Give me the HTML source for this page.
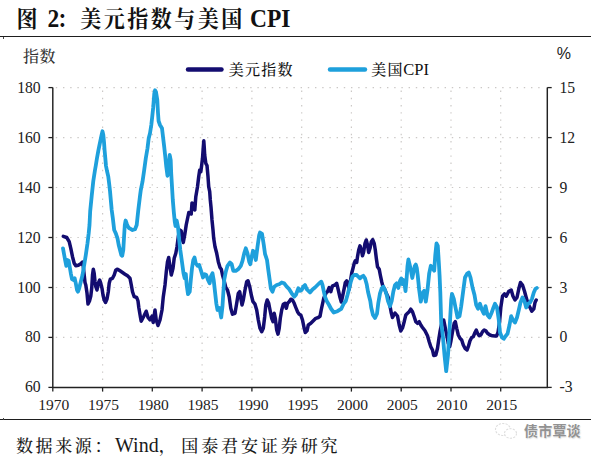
<!DOCTYPE html>
<html lang="zh-CN">
<head>
<meta charset="utf-8">
<title>图 2：美元指数与美国 CPI</title>
<style>
html,body{margin:0;padding:0;background:#fff;}
body{width:600px;height:456px;position:relative;overflow:hidden;font-family:"Liberation Serif","Noto Serif CJK SC",serif;color:#1a1a1a;}
.abs{position:absolute;white-space:nowrap;}
.title{left:16.5px;top:3.8px;font-size:21px;line-height:30px;font-weight:bold;letter-spacing:2.5px;color:#111;transform:scaleY(1.07);transform-origin:0 24px;}
.title span{display:inline-block;}
.title .lat{font-size:23.5px;letter-spacing:0;}
.rule{position:absolute;left:0;width:591px;height:1px;background:#1e1e1e;box-shadow:0 0 0.6px rgba(30,30,30,.55);}
.tickmark{position:absolute;left:2.5px;width:1.2px;height:2px;background:#444;}
.unitl{left:23px;top:47px;font-size:16px;line-height:20px;letter-spacing:0.6px;color:#333;font-weight:500;}
.unitr{left:556.8px;top:43.5px;font-size:16px;line-height:20px;font-family:"Liberation Sans",sans-serif;color:#222;}
.leg{font-size:15px;line-height:20px;letter-spacing:1.25px;color:#111;font-weight:500;}
.leg .lat{font-size:16.5px;letter-spacing:0;font-weight:400;margin-left:-0.5px;}
.yl{position:absolute;left:0;width:40.7px;text-align:right;font-size:15.7px;line-height:18px;color:#222;}
.yr{position:absolute;left:559.5px;width:40px;text-align:left;font-size:15.7px;line-height:18px;color:#222;}
.xl{position:absolute;top:396px;width:40px;text-align:center;font-size:15.5px;line-height:18px;color:#222;}
.src{top:432px;font-size:17px;line-height:26px;letter-spacing:2.6px;color:#1a1a1a;font-weight:500;}
.src .lat{letter-spacing:0;font-size:20px;font-weight:400;}
.wm{left:524px;top:421px;font-size:14px;line-height:20px;font-family:"Liberation Sans","Noto Sans CJK SC",sans-serif;font-weight:700;color:#929292;letter-spacing:0.2px;text-shadow:0 0 1px #fff,0.6px 0.8px 1.2px #d4d4d4;}
</style>
</head>
<body>
<svg width="600" height="456" viewBox="0 0 600 456" style="position:absolute;left:0;top:0">
<line x1="55.8" y1="87.6" x2="545.3" y2="87.6" stroke="#cbc8c6" stroke-width="1.2" stroke-dasharray="1.4 5.8"/>
<line x1="55.8" y1="137.6" x2="545.3" y2="137.6" stroke="#cbc8c6" stroke-width="1.2" stroke-dasharray="1.4 5.8"/>
<line x1="55.8" y1="187.5" x2="545.3" y2="187.5" stroke="#cbc8c6" stroke-width="1.2" stroke-dasharray="1.4 5.8"/>
<line x1="55.8" y1="237.5" x2="545.3" y2="237.5" stroke="#cbc8c6" stroke-width="1.2" stroke-dasharray="1.4 5.8"/>
<line x1="55.8" y1="287.5" x2="545.3" y2="287.5" stroke="#cbc8c6" stroke-width="1.2" stroke-dasharray="1.4 5.8"/>
<line x1="55.8" y1="337.4" x2="545.3" y2="337.4" stroke="#cbc8c6" stroke-width="1.2" stroke-dasharray="1.4 5.8"/>
<line x1="102.6" y1="90.6" x2="102.6" y2="385.4" stroke="#cbc8c6" stroke-width="1.2" stroke-dasharray="1.4 5.8"/>
<line x1="152.3" y1="90.6" x2="152.3" y2="385.4" stroke="#cbc8c6" stroke-width="1.2" stroke-dasharray="1.4 5.8"/>
<line x1="202.1" y1="90.6" x2="202.1" y2="385.4" stroke="#cbc8c6" stroke-width="1.2" stroke-dasharray="1.4 5.8"/>
<line x1="251.9" y1="90.6" x2="251.9" y2="385.4" stroke="#cbc8c6" stroke-width="1.2" stroke-dasharray="1.4 5.8"/>
<line x1="301.7" y1="90.6" x2="301.7" y2="385.4" stroke="#cbc8c6" stroke-width="1.2" stroke-dasharray="1.4 5.8"/>
<line x1="351.4" y1="90.6" x2="351.4" y2="385.4" stroke="#cbc8c6" stroke-width="1.2" stroke-dasharray="1.4 5.8"/>
<line x1="401.2" y1="90.6" x2="401.2" y2="385.4" stroke="#cbc8c6" stroke-width="1.2" stroke-dasharray="1.4 5.8"/>
<line x1="451.0" y1="90.6" x2="451.0" y2="385.4" stroke="#cbc8c6" stroke-width="1.2" stroke-dasharray="1.4 5.8"/>
<line x1="500.7" y1="90.6" x2="500.7" y2="385.4" stroke="#cbc8c6" stroke-width="1.2" stroke-dasharray="1.4 5.8"/>
<path d="M52.8,87.6 V387.4 H547.3 V87.6" fill="none" stroke="#222222" stroke-width="1.45"/>
<line x1="48.4" y1="87.6" x2="52.8" y2="87.6" stroke="#222222" stroke-width="1.3"/>
<line x1="547.3" y1="87.6" x2="551.7" y2="87.6" stroke="#222222" stroke-width="1.3"/>
<line x1="48.4" y1="137.6" x2="52.8" y2="137.6" stroke="#222222" stroke-width="1.3"/>
<line x1="547.3" y1="137.6" x2="551.7" y2="137.6" stroke="#222222" stroke-width="1.3"/>
<line x1="48.4" y1="187.5" x2="52.8" y2="187.5" stroke="#222222" stroke-width="1.3"/>
<line x1="547.3" y1="187.5" x2="551.7" y2="187.5" stroke="#222222" stroke-width="1.3"/>
<line x1="48.4" y1="237.5" x2="52.8" y2="237.5" stroke="#222222" stroke-width="1.3"/>
<line x1="547.3" y1="237.5" x2="551.7" y2="237.5" stroke="#222222" stroke-width="1.3"/>
<line x1="48.4" y1="287.5" x2="52.8" y2="287.5" stroke="#222222" stroke-width="1.3"/>
<line x1="547.3" y1="287.5" x2="551.7" y2="287.5" stroke="#222222" stroke-width="1.3"/>
<line x1="48.4" y1="337.4" x2="52.8" y2="337.4" stroke="#222222" stroke-width="1.3"/>
<line x1="547.3" y1="337.4" x2="551.7" y2="337.4" stroke="#222222" stroke-width="1.3"/>
<line x1="48.4" y1="387.4" x2="52.8" y2="387.4" stroke="#222222" stroke-width="1.3"/>
<line x1="547.3" y1="387.4" x2="551.7" y2="387.4" stroke="#222222" stroke-width="1.3"/>
<line x1="52.8" y1="387.4" x2="52.8" y2="391.6" stroke="#222222" stroke-width="1.3"/>
<line x1="102.6" y1="387.4" x2="102.6" y2="391.6" stroke="#222222" stroke-width="1.3"/>
<line x1="152.3" y1="387.4" x2="152.3" y2="391.6" stroke="#222222" stroke-width="1.3"/>
<line x1="202.1" y1="387.4" x2="202.1" y2="391.6" stroke="#222222" stroke-width="1.3"/>
<line x1="251.9" y1="387.4" x2="251.9" y2="391.6" stroke="#222222" stroke-width="1.3"/>
<line x1="301.7" y1="387.4" x2="301.7" y2="391.6" stroke="#222222" stroke-width="1.3"/>
<line x1="351.4" y1="387.4" x2="351.4" y2="391.6" stroke="#222222" stroke-width="1.3"/>
<line x1="401.2" y1="387.4" x2="401.2" y2="391.6" stroke="#222222" stroke-width="1.3"/>
<line x1="451.0" y1="387.4" x2="451.0" y2="391.6" stroke="#222222" stroke-width="1.3"/>
<line x1="500.7" y1="387.4" x2="500.7" y2="391.6" stroke="#222222" stroke-width="1.3"/>
<path d="M63.3,236.3 L66.7,237.5 L69.2,241.7 L70.8,248.3 L72.5,256.7 L74.2,263.3 L75.8,265.8 L78.3,265.3 L80.8,263.7 L82.5,262.0 L83.3,266.7 L84.2,275.0 L85.0,282.5 L85.8,285.0 L87.0,293.0 L88.0,304.0 L89.5,301.0 L90.8,296.0 L91.7,288.3 L92.5,275.0 L93.3,269.2 L94.2,273.3 L95.0,281.7 L95.8,286.7 L97.0,290.0 L98.3,283.3 L99.7,280.0 L100.8,283.3 L102.0,288.3 L103.0,295.0 L104.2,300.0 L105.5,302.5 L107.0,299.0 L108.3,291.7 L109.2,283.3 L110.3,279.2 L112.5,278.3 L114.2,275.0 L115.8,270.0 L117.5,269.2 L120.0,270.8 L122.5,272.5 L125.0,274.2 L127.5,275.8 L130.0,278.3 L131.3,285.0 L132.5,291.7 L134.2,296.7 L136.7,297.5 L138.0,301.0 L138.8,307.5 L140.5,317.5 L141.2,321.2 L143.8,316.2 L146.2,311.2 L148.0,317.5 L150.0,320.0 L152.0,316.2 L153.2,322.5 L155.0,310.0 L156.2,320.0 L158.0,325.5 L160.0,320.0 L162.0,310.0 L163.3,296.7 L165.0,285.0 L166.3,271.7 L167.5,261.7 L168.7,257.5 L170.0,266.7 L171.3,275.0 L173.0,268.3 L174.2,258.3 L175.8,253.3 L177.0,246.7 L178.3,236.7 L179.7,230.0 L181.2,231.0 L182.5,240.0 L183.3,242.5 L184.7,235.0 L186.2,225.0 L188.8,212.5 L191.2,214.0 L192.0,203.0 L193.0,203.5 L193.8,208.0 L194.8,210.0 L195.8,196.7 L197.5,186.7 L198.7,176.7 L199.7,170.0 L200.8,171.7 L201.7,165.0 L202.5,158.3 L203.3,147.0 L203.8,140.8 L204.3,148.0 L204.7,155.0 L205.8,163.3 L207.0,165.5 L208.0,176.7 L208.7,186.7 L209.7,191.7 L210.3,200.0 L211.0,207.0 L212.0,220.0 L213.0,230.0 L213.7,238.3 L215.0,246.7 L216.7,253.3 L218.3,261.7 L220.0,267.5 L221.3,269.2 L222.5,275.0 L224.2,281.0 L225.8,287.5 L227.5,290.0 L229.2,296.7 L230.8,308.3 L232.5,314.2 L235.0,313.3 L236.7,303.3 L238.3,293.3 L239.7,291.7 L240.8,298.3 L242.0,305.0 L243.3,300.0 L245.0,290.0 L246.7,281.7 L248.0,280.8 L249.7,286.7 L251.3,295.0 L253.0,301.7 L255.0,304.2 L256.7,310.0 L258.3,320.0 L260.0,328.3 L261.7,331.7 L263.3,328.3 L264.7,316.7 L265.8,305.0 L267.2,300.0 L268.7,303.3 L270.0,310.0 L271.7,318.3 L273.0,321.7 L274.2,313.3 L275.3,318.3 L276.7,330.0 L278.0,334.2 L279.2,328.3 L280.3,318.3 L281.7,310.0 L283.3,304.2 L285.0,303.3 L286.3,308.3 L287.5,303.3 L289.2,301.7 L290.8,299.2 L292.5,300.0 L294.2,303.3 L295.8,307.5 L297.5,311.7 L299.2,314.2 L300.8,315.0 L302.5,320.0 L304.2,328.3 L305.3,332.5 L307.0,330.8 L308.3,325.0 L310.8,323.3 L313.3,320.8 L315.8,318.3 L318.3,317.5 L320.0,316.3 L321.2,310.0 L323.8,298.0 L326.3,292.5 L327.5,291.7 L329.2,287.5 L330.8,291.7 L332.5,285.8 L335.0,285.0 L336.7,283.3 L338.3,290.0 L340.0,297.5 L341.3,302.0 L342.5,296.7 L344.2,288.3 L345.3,282.5 L346.7,280.8 L348.0,285.0 L349.2,289.2 L350.3,281.7 L351.7,273.3 L353.0,268.3 L354.2,263.3 L355.3,260.8 L356.7,262.5 L357.5,256.7 L358.7,250.0 L360.0,245.8 L361.3,250.0 L362.5,255.8 L363.7,251.7 L365.0,243.3 L366.3,240.0 L367.5,245.0 L368.7,252.5 L370.0,248.3 L371.3,241.7 L372.7,239.7 L374.2,243.3 L375.3,250.0 L376.3,258.3 L377.5,266.7 L379.2,269.2 L380.3,275.0 L381.7,281.7 L383.0,286.7 L384.7,289.2 L386.3,293.3 L388.0,296.7 L388.9,300.0 L391.2,312.5 L392.5,317.5 L395.0,313.0 L397.5,316.0 L399.2,325.0 L400.8,331.0 L402.5,328.0 L404.2,321.7 L405.8,315.0 L407.5,313.3 L409.2,311.7 L410.8,309.2 L412.5,311.7 L414.2,316.7 L415.8,321.7 L417.5,323.3 L419.2,321.7 L420.8,325.0 L422.5,327.5 L425.0,330.8 L427.5,335.8 L429.2,341.7 L430.8,346.7 L432.5,350.0 L433.7,355.5 L435.8,355.0 L437.5,348.3 L438.7,340.0 L440.0,331.7 L441.7,323.3 L443.7,320.0 L445.0,326.7 L446.7,335.0 L448.3,343.3 L449.7,346.7 L450.8,341.7 L452.5,331.7 L454.2,323.3 L455.3,321.7 L456.7,328.3 L458.3,335.0 L460.0,338.3 L461.7,340.0 L463.3,345.0 L465.0,348.3 L467.0,350.0 L468.3,346.7 L470.0,340.8 L471.7,337.5 L473.3,336.7 L475.0,332.5 L476.3,330.0 L477.5,333.3 L479.2,335.8 L480.8,335.0 L482.5,331.7 L484.2,330.0 L485.8,330.8 L487.5,333.3 L490.0,335.0 L492.5,335.8 L495.0,336.0 L496.5,336.0 L498.0,332.5 L499.5,322.5 L500.8,307.5 L502.5,296.2 L504.5,293.8 L506.2,296.2 L508.8,291.2 L511.2,290.0 L513.0,296.2 L515.0,300.0 L517.0,297.5 L518.8,288.8 L520.5,282.5 L522.5,285.0 L524.5,291.2 L526.2,297.5 L528.0,303.8 L530.0,307.5 L531.8,311.2 L533.8,308.8 L535.0,302.5 L536.2,300.0" fill="none" stroke="#130c70" stroke-width="3.5" stroke-linejoin="round" stroke-linecap="round"/>
<path d="M63.0,248.3 L64.2,255.0 L65.3,260.8 L66.3,265.8 L67.5,260.0 L68.7,260.8 L69.7,266.7 L70.8,273.3 L72.0,279.2 L73.3,280.0 L74.7,278.3 L75.8,283.3 L77.0,290.0 L78.0,291.7 L79.2,288.3 L80.8,281.7 L82.5,275.0 L84.2,265.0 L85.8,255.0 L87.5,243.3 L88.7,233.3 L89.5,225.0 L90.2,211.0 L91.7,196.0 L93.3,181.0 L95.0,170.0 L95.8,165.5 L97.0,158.0 L98.4,150.3 L99.5,145.0 L100.5,140.2 L101.6,135.0 L102.5,131.3 L103.3,135.0 L104.0,142.0 L104.6,150.3 L105.3,158.0 L106.0,166.0 L107.0,171.0 L108.3,176.7 L109.2,184.0 L110.0,191.0 L110.8,200.0 L111.7,210.0 L112.8,218.0 L114.2,230.0 L115.8,233.3 L117.5,238.3 L118.7,245.0 L120.0,250.0 L121.3,255.0 L122.2,255.8 L123.3,250.0 L124.1,236.0 L124.8,225.0 L125.6,220.5 L127.0,224.5 L128.8,228.0 L130.5,228.8 L132.5,230.0 L135.0,229.2 L136.7,225.0 L138.3,210.0 L140.0,196.0 L140.8,190.0 L142.5,181.7 L144.2,170.0 L145.8,158.3 L147.5,148.3 L148.7,138.3 L150.0,133.3 L151.3,125.0 L152.2,117.0 L153.2,107.5 L154.3,93.5 L155.0,90.3 L156.0,92.0 L157.3,100.0 L158.0,113.0 L158.6,121.0 L160.0,125.0 L162.0,128.3 L163.0,136.7 L164.2,146.7 L165.3,156.7 L166.3,166.7 L167.5,175.8 L168.7,168.3 L169.7,155.0 L170.7,160.0 L171.2,173.3 L172.0,186.7 L172.8,200.0 L173.8,212.0 L174.8,222.0 L175.5,226.0 L176.7,220.5 L178.0,227.0 L179.2,240.0 L180.3,250.0 L181.7,260.0 L182.8,268.0 L183.5,273.3 L184.7,278.3 L185.8,274.0 L186.7,285.0 L188.0,294.2 L189.7,291.7 L190.8,280.0 L192.0,268.3 L193.3,260.0 L194.5,257.5 L195.8,263.3 L197.5,265.8 L199.2,265.0 L200.8,270.0 L203.0,277.5 L204.7,274.2 L206.3,275.0 L208.0,280.0 L209.7,283.3 L210.8,276.7 L212.5,273.3 L213.7,280.0 L215.0,291.7 L216.3,303.3 L217.5,310.0 L219.5,308.0 L221.2,317.5 L222.5,306.0 L223.3,293.3 L224.2,280.0 L225.8,271.7 L227.5,265.8 L230.0,262.5 L231.7,264.2 L233.3,270.8 L235.8,270.8 L238.3,269.2 L240.8,265.8 L242.5,260.8 L244.2,253.3 L245.8,248.3 L247.5,253.3 L249.2,261.7 L250.3,264.2 L251.7,256.7 L253.0,250.8 L254.7,253.3 L255.8,260.0 L257.5,246.7 L259.2,235.0 L260.0,232.5 L262.0,233.8 L263.8,245.0 L265.0,253.8 L267.0,260.0 L268.3,270.0 L269.7,280.0 L270.8,288.3 L272.5,291.7 L274.2,286.7 L276.7,285.0 L279.2,284.2 L281.7,282.5 L284.2,283.3 L286.7,286.7 L289.2,289.2 L291.7,293.3 L294.2,296.7 L295.8,295.0 L298.3,288.3 L300.0,290.8 L301.7,290.0 L303.3,286.7 L305.0,285.0 L306.7,289.2 L310.0,292.5 L312.5,289.5 L315.0,287.5 L317.5,285.0 L320.0,282.5 L321.3,281.7 L322.5,285.0 L323.7,290.8 L325.0,296.7 L326.7,301.0 L328.8,304.5 L331.2,309.0 L333.8,312.5 L337.5,311.2 L341.2,308.8 L343.8,303.5 L345.8,301.0 L347.5,295.0 L349.2,288.3 L350.8,281.7 L352.5,276.7 L354.2,275.0 L356.7,275.0 L358.3,276.7 L360.0,278.3 L361.7,276.7 L363.3,275.8 L365.0,278.3 L366.7,284.2 L368.0,291.7 L369.2,296.7 L370.3,301.0 L371.2,307.5 L373.0,315.0 L375.0,318.0 L377.0,313.8 L378.3,303.0 L380.0,293.3 L381.7,288.3 L383.3,286.7 L385.0,290.0 L386.7,295.0 L388.0,301.0 L390.0,306.2 L391.7,301.0 L393.3,291.7 L395.0,285.0 L396.7,283.3 L398.3,288.0 L400.0,281.0 L401.3,278.5 L402.5,284.0 L403.5,280.0 L404.5,284.0 L405.5,291.0 L406.5,280.0 L407.5,266.0 L408.4,259.5 L409.5,264.0 L410.8,270.0 L412.3,278.0 L413.5,272.0 L414.8,266.0 L415.8,264.5 L416.8,268.0 L417.8,276.0 L419.2,290.0 L420.8,301.7 L422.5,293.3 L424.2,290.8 L425.8,301.7 L427.5,290.0 L429.2,273.3 L430.8,265.8 L432.5,268.3 L434.2,270.8 L435.3,255.0 L436.5,243.5 L437.8,246.0 L438.8,262.0 L439.6,276.0 L440.3,292.0 L441.2,322.5 L443.0,337.5 L444.5,355.0 L446.2,371.2 L448.0,355.0 L449.5,330.0 L451.2,300.0 L452.0,293.8 L453.8,298.8 L455.5,307.5 L457.5,317.5 L459.5,316.2 L461.2,306.2 L463.0,292.5 L465.0,277.5 L467.0,273.8 L468.8,272.5 L470.5,277.5 L472.5,287.5 L474.5,295.0 L476.2,305.0 L478.0,308.8 L480.0,303.8 L482.0,310.0 L483.8,313.8 L485.5,306.2 L487.5,315.0 L489.5,317.5 L491.2,313.8 L493.0,308.8 L495.0,303.8 L497.0,307.5 L498.8,320.0 L500.0,332.5 L502.0,337.5 L503.8,338.8 L505.5,336.2 L507.5,333.8 L509.5,325.0 L511.2,316.2 L513.0,320.0 L515.0,322.5 L517.0,317.5 L518.8,310.0 L520.5,302.5 L522.5,297.5 L524.5,301.2 L526.2,307.5 L528.0,303.8 L530.0,302.5 L532.0,298.8 L533.8,292.5 L535.5,288.8 L536.8,288.0" fill="none" stroke="#1ea0dc" stroke-width="3.8" stroke-linejoin="round" stroke-linecap="round"/>
<line x1="188" y1="69.5" x2="221.5" y2="69.5" stroke="#130c70" stroke-width="4.4" stroke-linecap="round"/>
<line x1="330" y1="69.5" x2="365" y2="69.5" stroke="#1ea0dc" stroke-width="4.4" stroke-linecap="round"/>
<g fill="none" stroke="#dedede" stroke-width="1.1" stroke-dasharray="2.2 1.2"><ellipse cx="503" cy="429.5" rx="7.5" ry="6"/><ellipse cx="510.5" cy="433.5" rx="6" ry="4.8" fill="#fff"/></g>
</svg>
<div class="abs title"><span>图</span> <span class="lat" style="margin-left:-0.25px">2</span><span style="margin-left:-2.5px;width:23.5px">：</span><span>美元指数与美国</span> <span class="lat" style="margin-left:-2.55px">CPI</span></div>
<div class="rule" style="top:36px"></div>
<div class="tickmark" style="top:36.5px"></div>
<div class="abs unitl">指数</div>
<div class="abs unitr">%</div>
<div class="abs leg" style="left:228.7px;top:59.8px">美元指数</div>
<div class="abs leg" style="left:371.3px;top:59.8px">美国<span class="lat">CPI</span></div>
<div class="yl" style="top:78.6px">180</div>
<div class="yl" style="top:128.6px">160</div>
<div class="yl" style="top:178.5px">140</div>
<div class="yl" style="top:228.5px">120</div>
<div class="yl" style="top:278.5px">100</div>
<div class="yl" style="top:328.4px">80</div>
<div class="yl" style="top:378.4px">60</div>
<div class="yr" style="top:78.6px">15</div>
<div class="yr" style="top:128.6px">12</div>
<div class="yr" style="top:178.5px">9</div>
<div class="yr" style="top:228.5px">6</div>
<div class="yr" style="top:278.5px">3</div>
<div class="yr" style="top:328.4px">0</div>
<div class="yr" style="top:378.4px">-3</div>
<div class="xl" style="left:33.8px">1970</div>
<div class="xl" style="left:83.6px">1975</div>
<div class="xl" style="left:133.3px">1980</div>
<div class="xl" style="left:183.1px">1985</div>
<div class="xl" style="left:232.9px">1990</div>
<div class="xl" style="left:282.7px">1995</div>
<div class="xl" style="left:332.4px">2000</div>
<div class="xl" style="left:382.2px">2005</div>
<div class="xl" style="left:432.0px">2010</div>
<div class="xl" style="left:481.7px">2015</div>
<div class="rule" style="top:419px"></div>
<div class="tickmark" style="top:417.5px"></div>
<div class="abs src" style="left:16px">数据来源：<span class="lat" style="margin-left:1px">Wind</span><span style="margin-right:3px">，</span><span style="letter-spacing:2.9px">国泰君安证券研究</span></div>
<div class="abs wm">债市覃谈</div>
</body>
</html>
